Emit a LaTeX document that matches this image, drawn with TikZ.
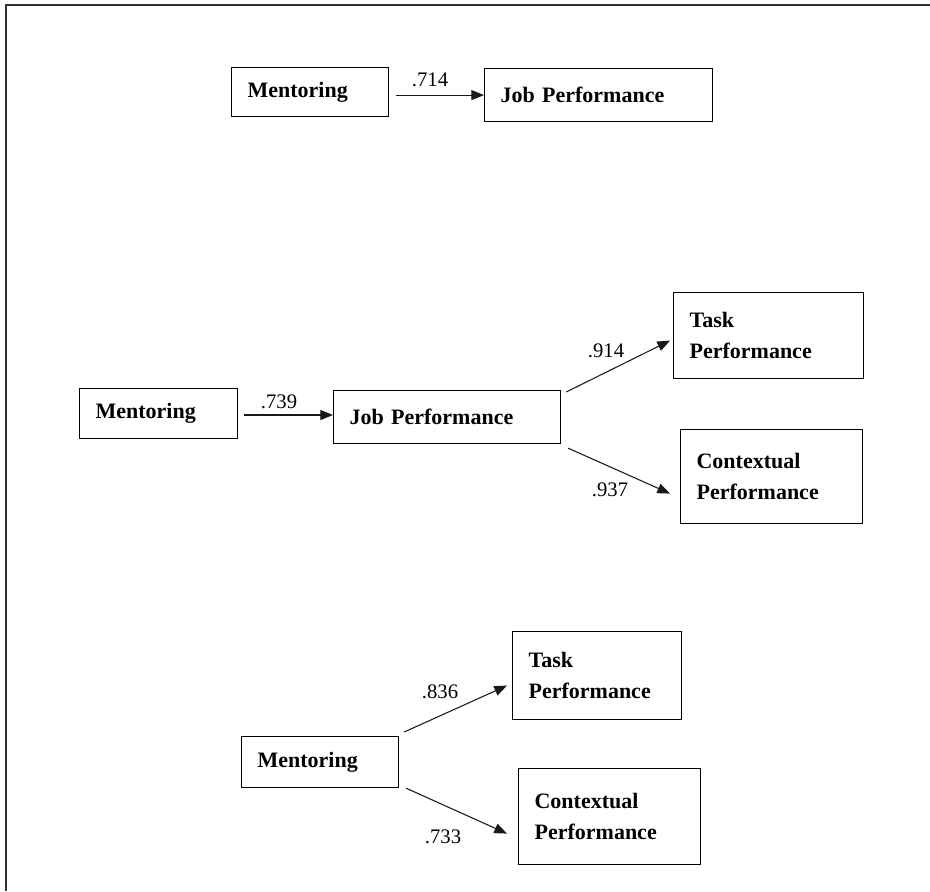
\documentclass[tikz,border=0pt]{standalone}
\usepackage{fontspec}
\setmainfont{Liberation Serif}
\usetikzlibrary{arrows.meta,calc}
\tikzset{
  box/.style={draw=black, line width=0.9pt, anchor=north west, align=left,
    inner xsep=12pt, inner ysep=0pt,
    font=\bfseries\fontsize{16.5}{23.5}\selectfont},
  arr/.style={draw=black!90, line width=0.8pt, -{Triangle[length=9.5pt,width=7.5pt]}},
  lbl/.style={inner sep=0pt, font=\fontsize{15.5}{18}\selectfont},
  frame/.style={draw=black!80, line width=1.6pt}
}
\newcommand{\bx}[6]{% name, x, y, w, h, text
  \node[box, minimum width=#4*0.75pt, minimum height=#5*0.75pt,
        text width=#4*0.75pt-24pt] (#1) at (#2,#3) {#6};}
\begin{document}
\begin{tikzpicture}[x=0.75pt,y=-0.75pt]
\useasboundingbox (0,0) rectangle (930,891);
\draw[frame] (930,5) -- (6,5) -- (6,891);

% top model
\bx{A1}{231}{67}{157}{49}{Mentoring}
\bx{A2}{484}{68}{228}{53}{Job Performance}
\draw[arr, shorten <=5pt] (A1.east |- A2.west) -- (A2.west);
\node[lbl] (l1) at (430,80) {.714};

% middle model
\bx{B1}{79}{388}{158}{50}{Mentoring}
\bx{B2}{333}{390}{227}{53}{Job Performance}
\bx{T1}{673}{292}{190}{86}{Task\\Performance}
\bx{K1}{680}{429}{182}{94}{Contextual\\Performance}
\draw[arr, shorten <=4.5pt] (B1.east |- 0,415) -- (B2.west |- 0,415);
\draw[arr] ($(B2.north east)+(5,2)$) -- ($(T1.west)+(-3,5)$);
\draw[arr] ($(B2.south east)+(7,4)$) -- ($(K1.west)+(-10,17)$);
\node[lbl] (l2) at (279,402) {.739};
\node[lbl] (l3) at (606,351) {.914};
\node[lbl] (l4) at (610,490) {.937};

% bottom model
\bx{C1}{241}{736}{157}{51}{Mentoring}
\bx{T2}{512}{631}{169}{88}{Task\\Performance}
\bx{K2}{518}{768}{182}{96}{Contextual\\Performance}
\draw[arr] ($(C1.north east)+(5,-4)$) -- ($(T2.west)+(-5,10)$);
\draw[arr] ($(C1.south east)+(7,0)$) -- ($(K2.west)+(-11,17)$);
\node[lbl] (l5) at (440,692) {.836};
\node[lbl] (l6) at (443,837) {.733};
\end{tikzpicture}
\end{document}
